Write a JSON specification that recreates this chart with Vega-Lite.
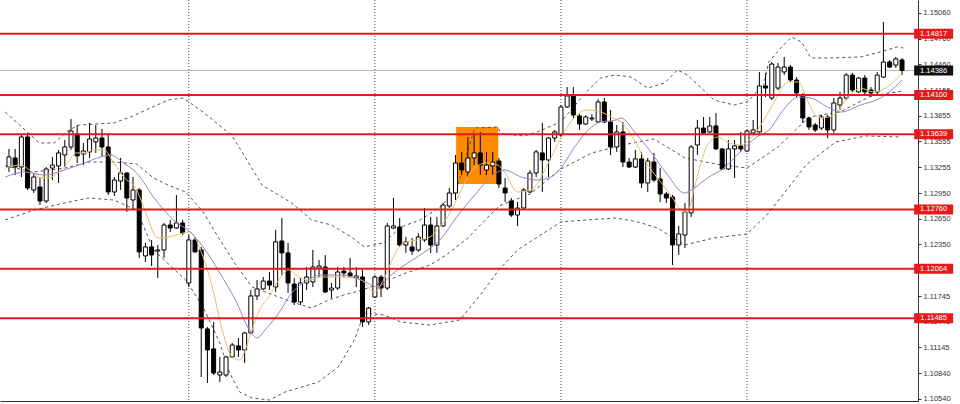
{
"$schema": "https://vega.github.io/schema/vega-lite/v6.json",
"width": 918, "height": 401,
"autosize": {"type": "none"},
"padding": {"left": 0, "top": 0, "right": 42, "bottom": 3},
"background": "white",
"config": {"view": {"stroke": null}, "font": "Liberation Sans"},
"datasets": {
"candles": [
{"i":0,"o":1.13256,"h":1.13468,"l":1.13198,"c":1.13374},
{"i":1,"o":1.13362,"h":1.13468,"l":1.13162,"c":1.13256},
{"i":2,"o":1.13256,"h":1.13631,"l":1.13139,"c":1.13608},
{"i":3,"o":1.13608,"h":1.13655,"l":1.12987,"c":1.13010},
{"i":4,"o":1.12987,"h":1.13186,"l":1.12952,"c":1.13139},
{"i":5,"o":1.13022,"h":1.13139,"l":1.12811,"c":1.12858},
{"i":6,"o":1.12858,"h":1.13256,"l":1.12835,"c":1.13233},
{"i":7,"o":1.13244,"h":1.13374,"l":1.13104,"c":1.13279},
{"i":8,"o":1.13268,"h":1.13456,"l":1.13069,"c":1.13421},
{"i":9,"o":1.13397,"h":1.13573,"l":1.13256,"c":1.13491},
{"i":10,"o":1.13491,"h":1.13819,"l":1.13456,"c":1.13678},
{"i":11,"o":1.13643,"h":1.13748,"l":1.13303,"c":1.13386},
{"i":12,"o":1.13409,"h":1.13538,"l":1.13279,"c":1.13444},
{"i":13,"o":1.13433,"h":1.13772,"l":1.13362,"c":1.13585},
{"i":14,"o":1.13550,"h":1.13748,"l":1.13421,"c":1.13596},
{"i":15,"o":1.13596,"h":1.13702,"l":1.13374,"c":1.13491},
{"i":16,"o":1.13491,"h":1.13655,"l":1.12928,"c":1.12964},
{"i":17,"o":1.12964,"h":1.13139,"l":1.12917,"c":1.13104},
{"i":18,"o":1.13092,"h":1.13362,"l":1.12987,"c":1.13186},
{"i":19,"o":1.13186,"h":1.13198,"l":1.12730,"c":1.12893},
{"i":20,"o":1.12870,"h":1.13139,"l":1.12753,"c":1.12987},
{"i":21,"o":1.12987,"h":1.13010,"l":1.12191,"c":1.12262},
{"i":22,"o":1.12215,"h":1.12367,"l":1.12144,"c":1.12320},
{"i":23,"o":1.12320,"h":1.12402,"l":1.12097,"c":1.12226},
{"i":24,"o":1.12273,"h":1.12343,"l":1.11956,"c":1.12285},
{"i":25,"o":1.12285,"h":1.12601,"l":1.12191,"c":1.12577},
{"i":26,"o":1.12577,"h":1.12636,"l":1.12496,"c":1.12542},
{"i":27,"o":1.12542,"h":1.12928,"l":1.12531,"c":1.12601},
{"i":28,"o":1.12601,"h":1.12636,"l":1.12460,"c":1.12484},
{"i":29,"o":1.11898,"h":1.12460,"l":1.11851,"c":1.12402},
{"i":30,"o":1.12402,"h":1.12437,"l":1.12250,"c":1.12262},
{"i":31,"o":1.12285,"h":1.12320,"l":1.10797,"c":1.11371},
{"i":32,"o":1.11360,"h":1.11383,"l":1.10727,"c":1.11114},
{"i":33,"o":1.11126,"h":1.11442,"l":1.10820,"c":1.10844},
{"i":34,"o":1.10820,"h":1.11032,"l":1.10739,"c":1.10856},
{"i":35,"o":1.10820,"h":1.11044,"l":1.10797,"c":1.11032},
{"i":36,"o":1.11032,"h":1.11196,"l":1.11020,"c":1.11172},
{"i":37,"o":1.11161,"h":1.11254,"l":1.11032,"c":1.11114},
{"i":38,"o":1.11114,"h":1.11325,"l":1.10961,"c":1.11313},
{"i":39,"o":1.11313,"h":1.11816,"l":1.11301,"c":1.11746},
{"i":40,"o":1.11746,"h":1.11933,"l":1.11699,"c":1.11828},
{"i":41,"o":1.11828,"h":1.11968,"l":1.11816,"c":1.11921},
{"i":42,"o":1.11921,"h":1.12027,"l":1.11816,"c":1.11874},
{"i":43,"o":1.11851,"h":1.12519,"l":1.11793,"c":1.12379},
{"i":44,"o":1.12390,"h":1.12659,"l":1.11991,"c":1.12250},
{"i":45,"o":1.12250,"h":1.12367,"l":1.11781,"c":1.11898},
{"i":46,"o":1.11886,"h":1.11956,"l":1.11640,"c":1.11676},
{"i":47,"o":1.11676,"h":1.11956,"l":1.11640,"c":1.11898},
{"i":48,"o":1.11898,"h":1.12085,"l":1.11816,"c":1.11968},
{"i":49,"o":1.11910,"h":1.12285,"l":1.11851,"c":1.12085},
{"i":50,"o":1.12073,"h":1.12167,"l":1.11968,"c":1.12097},
{"i":51,"o":1.12085,"h":1.12226,"l":1.11781,"c":1.11793},
{"i":52,"o":1.11816,"h":1.11898,"l":1.11722,"c":1.11839},
{"i":53,"o":1.11839,"h":1.12085,"l":1.11816,"c":1.12027},
{"i":54,"o":1.12038,"h":1.12085,"l":1.11968,"c":1.12015},
{"i":55,"o":1.12015,"h":1.12191,"l":1.11968,"c":1.11980},
{"i":56,"o":1.11956,"h":1.12085,"l":1.11851,"c":1.11980},
{"i":57,"o":1.11968,"h":1.12050,"l":1.11383,"c":1.11442},
{"i":58,"o":1.11442,"h":1.11617,"l":1.11406,"c":1.11605},
{"i":59,"o":1.11734,"h":1.11991,"l":1.11722,"c":1.11968},
{"i":60,"o":1.11968,"h":1.11991,"l":1.11734,"c":1.11839},
{"i":61,"o":1.11839,"h":1.12601,"l":1.11816,"c":1.12566},
{"i":62,"o":1.12542,"h":1.12893,"l":1.12531,"c":1.12566},
{"i":63,"o":1.12554,"h":1.12659,"l":1.12320,"c":1.12343},
{"i":64,"o":1.12343,"h":1.12437,"l":1.12250,"c":1.12379},
{"i":65,"o":1.12320,"h":1.12425,"l":1.12226,"c":1.12273},
{"i":66,"o":1.12285,"h":1.12484,"l":1.12262,"c":1.12437},
{"i":67,"o":1.12402,"h":1.12776,"l":1.12379,"c":1.12577},
{"i":68,"o":1.12577,"h":1.12671,"l":1.12250,"c":1.12343},
{"i":69,"o":1.12343,"h":1.12671,"l":1.12250,"c":1.12566},
{"i":70,"o":1.12566,"h":1.12835,"l":1.12554,"c":1.12811},
{"i":71,"o":1.12800,"h":1.13010,"l":1.12776,"c":1.12952},
{"i":72,"o":1.12952,"h":1.13397,"l":1.12870,"c":1.13303},
{"i":73,"o":1.13303,"h":1.13433,"l":1.13162,"c":1.13221},
{"i":74,"o":1.13198,"h":1.13608,"l":1.13139,"c":1.13362},
{"i":75,"o":1.13362,"h":1.13655,"l":1.13279,"c":1.13421},
{"i":76,"o":1.13421,"h":1.13667,"l":1.13162,"c":1.13279},
{"i":77,"o":1.13221,"h":1.13433,"l":1.13162,"c":1.13279},
{"i":78,"o":1.13268,"h":1.13433,"l":1.13162,"c":1.13315},
{"i":79,"o":1.13326,"h":1.13362,"l":1.13010,"c":1.13057},
{"i":80,"o":1.13010,"h":1.13127,"l":1.12847,"c":1.12952},
{"i":81,"o":1.12858,"h":1.12893,"l":1.12671,"c":1.12694},
{"i":82,"o":1.12694,"h":1.12847,"l":1.12566,"c":1.12776},
{"i":83,"o":1.12776,"h":1.13010,"l":1.12753,"c":1.12987},
{"i":84,"o":1.12964,"h":1.13221,"l":1.12952,"c":1.13186},
{"i":85,"o":1.13186,"h":1.13456,"l":1.13139,"c":1.13433},
{"i":86,"o":1.13421,"h":1.13772,"l":1.12964,"c":1.13338},
{"i":87,"o":1.13338,"h":1.13608,"l":1.13139,"c":1.13596},
{"i":88,"o":1.13596,"h":1.13690,"l":1.13550,"c":1.13667},
{"i":89,"o":1.13631,"h":1.13982,"l":1.13608,"c":1.13959},
{"i":90,"o":1.13959,"h":1.14193,"l":1.13947,"c":1.14088},
{"i":91,"o":1.14088,"h":1.14193,"l":1.13830,"c":1.13865},
{"i":92,"o":1.13854,"h":1.13877,"l":1.13690,"c":1.13760},
{"i":93,"o":1.13760,"h":1.13865,"l":1.13748,"c":1.13842},
{"i":94,"o":1.13819,"h":1.13877,"l":1.13795,"c":1.13830},
{"i":95,"o":1.13784,"h":1.14053,"l":1.13772,"c":1.14018},
{"i":96,"o":1.14018,"h":1.14064,"l":1.13772,"c":1.13784},
{"i":97,"o":1.13784,"h":1.13924,"l":1.13397,"c":1.13491},
{"i":98,"o":1.13491,"h":1.13748,"l":1.13433,"c":1.13667},
{"i":99,"o":1.13667,"h":1.13784,"l":1.13256,"c":1.13315},
{"i":100,"o":1.13315,"h":1.13362,"l":1.13244,"c":1.13256},
{"i":101,"o":1.13256,"h":1.13456,"l":1.13244,"c":1.13351},
{"i":102,"o":1.13351,"h":1.13433,"l":1.13010,"c":1.13069},
{"i":103,"o":1.13069,"h":1.13362,"l":1.12964,"c":1.13326},
{"i":104,"o":1.13315,"h":1.13421,"l":1.13081,"c":1.13104},
{"i":105,"o":1.13116,"h":1.13244,"l":1.12847,"c":1.12940},
{"i":106,"o":1.12940,"h":1.12964,"l":1.12835,"c":1.12893},
{"i":107,"o":1.12905,"h":1.12928,"l":1.12108,"c":1.12343},
{"i":108,"o":1.12343,"h":1.12566,"l":1.12226,"c":1.12472},
{"i":109,"o":1.12460,"h":1.12835,"l":1.12308,"c":1.12730},
{"i":110,"o":1.12718,"h":1.13514,"l":1.12671,"c":1.13491},
{"i":111,"o":1.13514,"h":1.13807,"l":1.13397,"c":1.13713},
{"i":112,"o":1.13713,"h":1.13842,"l":1.13631,"c":1.13655},
{"i":113,"o":1.13667,"h":1.13842,"l":1.13655,"c":1.13737},
{"i":114,"o":1.13737,"h":1.13889,"l":1.13456,"c":1.13468},
{"i":115,"o":1.13468,"h":1.13479,"l":1.13221,"c":1.13233},
{"i":116,"o":1.13233,"h":1.13573,"l":1.13221,"c":1.13468},
{"i":117,"o":1.13468,"h":1.13573,"l":1.13127,"c":1.13503},
{"i":118,"o":1.13503,"h":1.13667,"l":1.13433,"c":1.13468},
{"i":119,"o":1.13444,"h":1.13690,"l":1.13433,"c":1.13678},
{"i":120,"o":1.13655,"h":1.13807,"l":1.13631,"c":1.13690},
{"i":121,"o":1.13667,"h":1.14369,"l":1.13655,"c":1.14205},
{"i":122,"o":1.14205,"h":1.14357,"l":1.14076,"c":1.14181},
{"i":123,"o":1.14064,"h":1.14486,"l":1.14041,"c":1.14462},
{"i":124,"o":1.14181,"h":1.14474,"l":1.14158,"c":1.14427},
{"i":125,"o":1.14369,"h":1.14545,"l":1.14333,"c":1.14427},
{"i":126,"o":1.14427,"h":1.14450,"l":1.14252,"c":1.14275},
{"i":127,"o":1.14275,"h":1.14310,"l":1.14076,"c":1.14123},
{"i":128,"o":1.14099,"h":1.14123,"l":1.13772,"c":1.13830},
{"i":129,"o":1.13830,"h":1.13842,"l":1.13690,"c":1.13725},
{"i":130,"o":1.13748,"h":1.13772,"l":1.13667,"c":1.13690},
{"i":131,"o":1.13713,"h":1.13865,"l":1.13690,"c":1.13842},
{"i":132,"o":1.13842,"h":1.13865,"l":1.13596,"c":1.13690},
{"i":133,"o":1.13690,"h":1.14064,"l":1.13655,"c":1.14006},
{"i":134,"o":1.13982,"h":1.14135,"l":1.13924,"c":1.14064},
{"i":135,"o":1.14064,"h":1.14357,"l":1.14041,"c":1.14333},
{"i":136,"o":1.14333,"h":1.14357,"l":1.14135,"c":1.14158},
{"i":137,"o":1.14135,"h":1.14310,"l":1.14123,"c":1.14298},
{"i":138,"o":1.14298,"h":1.14333,"l":1.14099,"c":1.14135},
{"i":139,"o":1.14158,"h":1.14193,"l":1.14076,"c":1.14123},
{"i":140,"o":1.14135,"h":1.14369,"l":1.14099,"c":1.14333},
{"i":141,"o":1.14310,"h":1.14955,"l":1.14298,"c":1.14486},
{"i":142,"o":1.14486,"h":1.14509,"l":1.14415,"c":1.14427},
{"i":143,"o":1.14450,"h":1.14545,"l":1.14415,"c":1.14522},
{"i":144,"o":1.14509,"h":1.14533,"l":1.14333,"c":1.14386}
],
"ma": [
{"s":"fast","i":-0.6,"v":1.13244},{"s":"fast","i":2,"v":1.13279},{"s":"fast","i":3.3,"v":1.13221},{"s":"fast","i":4.7,"v":1.13139},{"s":"fast","i":6.3,"v":1.13127},{"s":"fast","i":7.9,"v":1.13186},{"s":"fast","i":9.5,"v":1.13303},{"s":"fast","i":10.8,"v":1.13421},{"s":"fast","i":12.1,"v":1.13421},{"s":"fast","i":13.7,"v":1.13456},{"s":"fast","i":15.3,"v":1.13456},{"s":"fast","i":16.9,"v":1.13303},{"s":"fast","i":18.5,"v":1.13139},{"s":"fast","i":20.6,"v":1.12987},{"s":"fast","i":22.2,"v":1.12694},{"s":"fast","i":24,"v":1.12425},{"s":"fast","i":26.5,"v":1.12449},{"s":"fast","i":29.1,"v":1.12496},{"s":"fast","i":31.3,"v":1.12203},{"s":"fast","i":32.9,"v":1.11816},{"s":"fast","i":34.4,"v":1.11348},{"s":"fast","i":36,"v":1.11032},{"s":"fast","i":37.2,"v":1.10996},{"s":"fast","i":38.1,"v":1.11114},{"s":"fast","i":39.2,"v":1.11348},{"s":"fast","i":40.4,"v":1.11582},{"s":"fast","i":41.9,"v":1.11734},{"s":"fast","i":43.5,"v":1.11933},{"s":"fast","i":45.1,"v":1.12050},{"s":"fast","i":46.7,"v":1.11968},{"s":"fast","i":48.3,"v":1.11933},{"s":"fast","i":50.4,"v":1.11968},{"s":"fast","i":53.6,"v":1.11968},{"s":"fast","i":56.8,"v":1.11933},{"s":"fast","i":58.9,"v":1.11793},{"s":"fast","i":60.4,"v":1.11933},{"s":"fast","i":62,"v":1.12203},{"s":"fast","i":63.6,"v":1.12367},{"s":"fast","i":65.9,"v":1.12402},{"s":"fast","i":67.9,"v":1.12437},{"s":"fast","i":69.5,"v":1.12554},{"s":"fast","i":71.1,"v":1.12718},{"s":"fast","i":72.7,"v":1.12952},{"s":"fast","i":75,"v":1.13244},{"s":"fast","i":77,"v":1.13303},{"s":"fast","i":78.8,"v":1.13279},{"s":"fast","i":79.9,"v":1.13198},{"s":"fast","i":82,"v":1.12964},{"s":"fast","i":84.2,"v":1.12987},{"s":"fast","i":86.8,"v":1.13279},{"s":"fast","i":89,"v":1.13596},{"s":"fast","i":91.1,"v":1.13830},{"s":"fast","i":93.1,"v":1.13924},{"s":"fast","i":95.4,"v":1.13901},{"s":"fast","i":97.4,"v":1.13830},{"s":"fast","i":98.7,"v":1.13784},{"s":"fast","i":101,"v":1.13550},{"s":"fast","i":103,"v":1.13279},{"s":"fast","i":105.1,"v":1.13081},{"s":"fast","i":107,"v":1.12893},{"s":"fast","i":108.3,"v":1.12753},{"s":"fast","i":109.4,"v":1.12730},{"s":"fast","i":110.5,"v":1.13010},{"s":"fast","i":111.5,"v":1.13279},{"s":"fast","i":112.6,"v":1.13514},{"s":"fast","i":114.2,"v":1.13608},{"s":"fast","i":115.8,"v":1.13550},{"s":"fast","i":117.9,"v":1.13514},{"s":"fast","i":120.1,"v":1.13631},{"s":"fast","i":122.2,"v":1.13865},{"s":"fast","i":123.4,"v":1.14018},{"s":"fast","i":125.7,"v":1.14252},{"s":"fast","i":127.3,"v":1.14252},{"s":"fast","i":128.2,"v":1.14135},{"s":"fast","i":129.3,"v":1.13947},{"s":"fast","i":130.9,"v":1.13830},{"s":"fast","i":133,"v":1.13865},{"s":"fast","i":135.2,"v":1.14064},{"s":"fast","i":137.3,"v":1.14181},{"s":"fast","i":139.4,"v":1.14135},{"s":"fast","i":141.6,"v":1.14193},{"s":"fast","i":143.7,"v":1.14333},{"s":"fast","i":144,"v":1.14357},
{"s":"slow","i":-0.6,"v":1.13139},{"s":"slow","i":2.6,"v":1.13198},{"s":"slow","i":5.7,"v":1.13162},{"s":"slow","i":8.9,"v":1.13221},{"s":"slow","i":12.1,"v":1.13303},{"s":"slow","i":14.8,"v":1.13374},{"s":"slow","i":16.4,"v":1.13397},{"s":"slow","i":18.5,"v":1.13303},{"s":"slow","i":20.6,"v":1.13186},{"s":"slow","i":23.3,"v":1.12905},{"s":"slow","i":26.5,"v":1.12636},{"s":"slow","i":29.2,"v":1.12496},{"s":"slow","i":31.3,"v":1.12320},{"s":"slow","i":34,"v":1.12015},{"s":"slow","i":36.5,"v":1.11699},{"s":"slow","i":38.8,"v":1.11348},{"s":"slow","i":40,"v":1.11254},{"s":"slow","i":41.3,"v":1.11348},{"s":"slow","i":43.5,"v":1.11547},{"s":"slow","i":45.6,"v":1.11781},{"s":"slow","i":47.7,"v":1.11910},{"s":"slow","i":50.4,"v":1.11991},{"s":"slow","i":53.6,"v":1.11991},{"s":"slow","i":56.8,"v":1.11933},{"s":"slow","i":59.5,"v":1.11851},{"s":"slow","i":61.6,"v":1.11991},{"s":"slow","i":64.3,"v":1.12132},{"s":"slow","i":66.8,"v":1.12250},{"s":"slow","i":69.5,"v":1.12402},{"s":"slow","i":72.2,"v":1.12671},{"s":"slow","i":75.1,"v":1.12928},{"s":"slow","i":78.8,"v":1.13198},{"s":"slow","i":79.9,"v":1.13221},{"s":"slow","i":82.6,"v":1.13139},{"s":"slow","i":85.2,"v":1.13104},{"s":"slow","i":87.4,"v":1.13139},{"s":"slow","i":89,"v":1.13244},{"s":"slow","i":91.1,"v":1.13479},{"s":"slow","i":93.1,"v":1.13667},{"s":"slow","i":95.4,"v":1.13784},{"s":"slow","i":97.9,"v":1.13807},{"s":"slow","i":98.7,"v":1.13830},{"s":"slow","i":101,"v":1.13655},{"s":"slow","i":103.5,"v":1.13433},{"s":"slow","i":106.2,"v":1.13162},{"s":"slow","i":108.9,"v":1.12952},{"s":"slow","i":110.5,"v":1.13010},{"s":"slow","i":112.6,"v":1.13127},{"s":"slow","i":115.3,"v":1.13244},{"s":"slow","i":117.9,"v":1.13433},{"s":"slow","i":120.6,"v":1.13608},{"s":"slow","i":122.6,"v":1.13690},{"s":"slow","i":124.6,"v":1.13900},{"s":"slow","i":127.3,"v":1.14076},{"s":"slow","i":129.3,"v":1.14064},{"s":"slow","i":132,"v":1.13959},{"s":"slow","i":134.1,"v":1.13900},{"s":"slow","i":137.3,"v":1.13982},{"s":"slow","i":140.5,"v":1.14064},{"s":"slow","i":143.7,"v":1.14252},{"s":"slow","i":144,"v":1.14275}
],
"bands": [
{"s":"up","i":-0.6,"v":1.13900},{"s":"up","i":2.6,"v":1.13690},{"s":"up","i":4.9,"v":1.13538},{"s":"up","i":7.3,"v":1.13538},{"s":"up","i":9.7,"v":1.13690},{"s":"up","i":11.3,"v":1.13748},{"s":"up","i":16.9,"v":1.13772},{"s":"up","i":19.6,"v":1.13842},{"s":"up","i":22.8,"v":1.13947},{"s":"up","i":25.7,"v":1.14041},{"s":"up","i":28.1,"v":1.14064},{"s":"up","i":31.3,"v":1.13900},{"s":"up","i":36,"v":1.13620},{"s":"up","i":40.8,"v":1.13045},{"s":"up","i":45.6,"v":1.12835},{"s":"up","i":48.8,"v":1.12636},{"s":"up","i":52,"v":1.12577},{"s":"up","i":55.2,"v":1.12437},{"s":"up","i":57.3,"v":1.12320},{"s":"up","i":60.4,"v":1.12367},{"s":"up","i":63.2,"v":1.12554},{"s":"up","i":66.3,"v":1.12636},{"s":"up","i":69.5,"v":1.12788},{"s":"up","i":72.2,"v":1.12987},{"s":"up","i":73.2,"v":1.13256},{"s":"up","i":75.1,"v":1.13713},{"s":"up","i":78.8,"v":1.13725},{"s":"up","i":79.4,"v":1.13643},{"s":"up","i":83.1,"v":1.13620},{"s":"up","i":85.2,"v":1.13667},{"s":"up","i":89,"v":1.13784},{"s":"up","i":93.1,"v":1.14135},{"s":"up","i":95.4,"v":1.14298},{"s":"up","i":97.8,"v":1.14333},{"s":"up","i":100.3,"v":1.14310},{"s":"up","i":103,"v":1.14181},{"s":"up","i":105.7,"v":1.14240},{"s":"up","i":107.8,"v":1.14392},{"s":"up","i":109.4,"v":1.14333},{"s":"up","i":113.7,"v":1.14041},{"s":"up","i":116.9,"v":1.13982},{"s":"up","i":119,"v":1.14018},{"s":"up","i":121.7,"v":1.14216},{"s":"up","i":122.5,"v":1.14486},{"s":"up","i":124.6,"v":1.14662},{"s":"up","i":126.2,"v":1.14779},{"s":"up","i":127.8,"v":1.14721},{"s":"up","i":129.3,"v":1.14533},{"s":"up","i":132,"v":1.14533},{"s":"up","i":137.3,"v":1.14545},{"s":"up","i":140.5,"v":1.14603},{"s":"up","i":143.2,"v":1.14662},{"s":"up","i":144.2,"v":1.14650},
{"s":"mid","i":-0.6,"v":1.13268},{"s":"mid","i":4,"v":1.13198},{"s":"mid","i":9,"v":1.13244},{"s":"mid","i":13,"v":1.13315},{"s":"mid","i":17,"v":1.13315},{"s":"mid","i":20.6,"v":1.13291},{"s":"mid","i":23.3,"v":1.13127},{"s":"mid","i":26,"v":1.13034},{"s":"mid","i":28.5,"v":1.12964},{"s":"mid","i":31.3,"v":1.12730},{"s":"mid","i":34,"v":1.12402},{"s":"mid","i":36.5,"v":1.12120},{"s":"mid","i":39.2,"v":1.11851},{"s":"mid","i":43.5,"v":1.11734},{"s":"mid","i":46.1,"v":1.11664},{"s":"mid","i":48.8,"v":1.11605},{"s":"mid","i":51.5,"v":1.11699},{"s":"mid","i":54,"v":1.11758},{"s":"mid","i":57,"v":1.11816},{"s":"mid","i":60.4,"v":1.11910},{"s":"mid","i":64,"v":1.12015},{"s":"mid","i":67.9,"v":1.12108},{"s":"mid","i":70.5,"v":1.12226},{"s":"mid","i":74,"v":1.12425},{"s":"mid","i":79,"v":1.12800},{"s":"mid","i":84,"v":1.12940},{"s":"mid","i":89,"v":1.13233},{"s":"mid","i":94,"v":1.13421},{"s":"mid","i":99,"v":1.13514},{"s":"mid","i":104,"v":1.13585},{"s":"mid","i":109,"v":1.13362},{"s":"mid","i":114,"v":1.13291},{"s":"mid","i":119,"v":1.13244},{"s":"mid","i":124,"v":1.13491},{"s":"mid","i":129,"v":1.13842},{"s":"mid","i":134,"v":1.13901},{"s":"mid","i":139,"v":1.14088},{"s":"mid","i":144,"v":1.14146},
{"s":"lo","i":-0.6,"v":1.12636},{"s":"lo","i":4.1,"v":1.12753},{"s":"lo","i":8.9,"v":1.12835},{"s":"lo","i":12.9,"v":1.12893},{"s":"lo","i":16.9,"v":1.12870},{"s":"lo","i":20.6,"v":1.12753},{"s":"lo","i":23.3,"v":1.12285},{"s":"lo","i":28.5,"v":1.11933},{"s":"lo","i":31.3,"v":1.11617},{"s":"lo","i":34,"v":1.11196},{"s":"lo","i":35.6,"v":1.10844},{"s":"lo","i":37.2,"v":1.10621},{"s":"lo","i":39.2,"v":1.10551},{"s":"lo","i":42,"v":1.10528},{"s":"lo","i":44.5,"v":1.10621},{"s":"lo","i":49.9,"v":1.10739},{"s":"lo","i":53.1,"v":1.10914},{"s":"lo","i":55.7,"v":1.11231},{"s":"lo","i":57.3,"v":1.11547},{"s":"lo","i":60.4,"v":1.11524},{"s":"lo","i":63.2,"v":1.11442},{"s":"lo","i":67.9,"v":1.11406},{"s":"lo","i":72.7,"v":1.11465},{"s":"lo","i":76,"v":1.11758},{"s":"lo","i":79,"v":1.12050},{"s":"lo","i":82,"v":1.12285},{"s":"lo","i":85,"v":1.12425},{"s":"lo","i":89,"v":1.12613},{"s":"lo","i":93.1,"v":1.12636},{"s":"lo","i":97.9,"v":1.12659},{"s":"lo","i":101.4,"v":1.12613},{"s":"lo","i":104.6,"v":1.12542},{"s":"lo","i":108.9,"v":1.12343},{"s":"lo","i":113.7,"v":1.12425},{"s":"lo","i":119,"v":1.12472},{"s":"lo","i":122.2,"v":1.12694},{"s":"lo","i":125.4,"v":1.12987},{"s":"lo","i":128.5,"v":1.13279},{"s":"lo","i":133.3,"v":1.13550},{"s":"lo","i":138.1,"v":1.13620},{"s":"lo","i":143.7,"v":1.13608}
],
"levels": [{"p":1.14817},{"p":1.14100},{"p":1.13639},{"p":1.12760},{"p":1.12064},{"p":1.11485}],
"bid": [{"p":1.14386}],
"seps": [{"i":29},{"i":59},{"i":89},{"i":119}],
"zone": [{"i0":72.1,"i1":78.9,"p0":1.13057,"p1":1.13725}]
},
"layer": [
{"data": {"name": "zone"}, "mark": {"type": "rect", "color": "#FF8C00"},
 "encoding": {
  "x": {"field": "i0", "type": "quantitative", "title": null, "scale": {"domain": [-0.64, 145.77], "nice": false, "zero": false}, "axis": {"title": null, "labels": false, "ticks": false, "grid": false, "domain": true, "domainColor": "#333"}},
  "x2": {"field": "i1"},
  "y": {"field": "p0", "type": "quantitative", "title": null, "scale": {"domain": [1.10516, 1.15212], "nice": false, "zero": false},
   "axis": {"orient": "right", "title": null, "grid": false, "values": [1.1506,1.1476,1.1446,1.14155,1.13855,1.13555,1.13255,1.1295,1.1265,1.1235,1.1205,1.11745,1.11445,1.11145,1.1084,1.1054], "tickCount": 40, "format": ".5f", "labelFontSize": 7.5, "labelColor": "#333", "tickSize": 3, "tickColor": "#333", "domainColor": "#333", "labelPadding": 2, "labelFont": "Liberation Sans", "labelOverlap": false, "labelFlush": false, "labelBound": false}},
  "y2": {"field": "p1"}
 }},
{"data": {"name": "seps"}, "mark": {"type": "rule", "color": "#444", "strokeDash": [1, 2], "strokeWidth": 1},
 "encoding": {"x": {"field": "i", "type": "quantitative", "title": null, "scale": {"domain": [-0.64, 145.77], "nice": false, "zero": false}}}},
{"data": {"name": "bid"}, "mark": {"type": "rule", "color": "#B8B8B8", "strokeWidth": 1},
 "encoding": {"y": {"field": "p", "type": "quantitative", "title": null, "scale": {"domain": [1.10516, 1.15212], "nice": false, "zero": false}}}},
{"data": {"name": "bands"}, "mark": {"type": "line", "color": "#555", "strokeDash": [3, 3], "strokeWidth": 1},
 "encoding": {
  "x": {"field": "i", "type": "quantitative", "title": null, "scale": {"domain": [-0.64, 145.77], "nice": false, "zero": false}},
  "y": {"field": "v", "type": "quantitative", "title": null, "scale": {"domain": [1.10516, 1.15212], "nice": false, "zero": false}},
  "detail": {"field": "s"}, "order": {"field": "i", "type": "quantitative"}
 }},
{"data": {"name": "candles"}, "mark": {"type": "rule", "color": "black", "strokeWidth": 1},
 "encoding": {
  "x": {"field": "i", "type": "quantitative", "title": null, "scale": {"domain": [-0.64, 145.77], "nice": false, "zero": false}},
  "y": {"field": "l", "type": "quantitative", "title": null, "scale": {"domain": [1.10516, 1.15212], "nice": false, "zero": false}},
  "y2": {"field": "h"}
 }},
{"data": {"name": "candles"}, "mark": {"type": "bar", "size": 4, "stroke": "black", "strokeWidth": 1},
 "encoding": {
  "x": {"field": "i", "type": "quantitative", "title": null, "scale": {"domain": [-0.64, 145.77], "nice": false, "zero": false}},
  "y": {"field": "o", "type": "quantitative", "title": null, "scale": {"domain": [1.10516, 1.15212], "nice": false, "zero": false}},
  "y2": {"field": "c"},
  "color": {"condition": {"test": "datum.o > datum.c", "value": "black"}, "value": "white"}
 }},
{"data": {"name": "ma"}, "mark": {"type": "line", "strokeWidth": 1, "interpolate": "monotone"},
 "encoding": {
  "x": {"field": "i", "type": "quantitative", "title": null, "scale": {"domain": [-0.64, 145.77], "nice": false, "zero": false}},
  "y": {"field": "v", "type": "quantitative", "title": null, "scale": {"domain": [1.10516, 1.15212], "nice": false, "zero": false}},
  "color": {"field": "s", "type": "nominal", "scale": {"domain": ["fast", "slow"], "range": ["#E6C070", "#9B80C4"]}, "legend": null},
  "order": {"field": "i", "type": "quantitative"}
 }},
{"data": {"name": "levels"}, "mark": {"type": "rule", "color": "#E51A1A", "strokeWidth": 2},
 "encoding": {"y": {"field": "p", "type": "quantitative", "title": null, "scale": {"domain": [1.10516, 1.15212], "nice": false, "zero": false}}}},
{"data": {"name": "levels"}, "mark": {"type": "tick", "orient": "vertical", "color": "#E51A1A", "thickness": 39, "size": 10, "opacity": 1},
 "encoding": {
  "x": {"datum": 149.1, "type": "quantitative", "scale": {"domain": [-0.64, 145.77], "nice": false, "zero": false}},
  "y": {"field": "p", "type": "quantitative", "title": null, "scale": {"domain": [1.10516, 1.15212], "nice": false, "zero": false}}
 }},
{"data": {"name": "bid"}, "mark": {"type": "tick", "orient": "vertical", "color": "#111", "thickness": 39, "size": 10, "opacity": 1},
 "encoding": {
  "x": {"datum": 149.1, "type": "quantitative", "scale": {"domain": [-0.64, 145.77], "nice": false, "zero": false}},
  "y": {"field": "p", "type": "quantitative", "title": null, "scale": {"domain": [1.10516, 1.15212], "nice": false, "zero": false}}
 }},
{"data": {"name": "levels"}, "mark": {"type": "text", "color": "white", "fontSize": 7.5, "font": "Liberation Sans", "align": "center", "baseline": "middle"},
 "encoding": {
  "x": {"datum": 149.1, "type": "quantitative", "scale": {"domain": [-0.64, 145.77], "nice": false, "zero": false}},
  "y": {"field": "p", "type": "quantitative", "title": null, "scale": {"domain": [1.10516, 1.15212], "nice": false, "zero": false}},
  "text": {"field": "p", "type": "quantitative", "format": ".5f"}
 }},
{"data": {"name": "bid"}, "mark": {"type": "text", "color": "white", "fontSize": 7.5, "font": "Liberation Sans", "align": "center", "baseline": "middle"},
 "encoding": {
  "x": {"datum": 149.1, "type": "quantitative", "scale": {"domain": [-0.64, 145.77], "nice": false, "zero": false}},
  "y": {"field": "p", "type": "quantitative", "title": null, "scale": {"domain": [1.10516, 1.15212], "nice": false, "zero": false}},
  "text": {"field": "p", "type": "quantitative", "format": ".5f"}
 }}
]
}
